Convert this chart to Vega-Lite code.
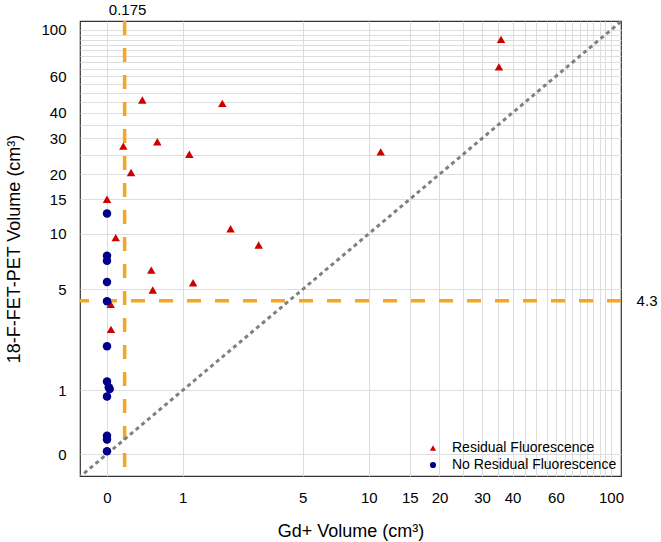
{
  "$schema": "https://vega.github.io/schema/vega-lite/v6.json",
  "width": 541,
  "height": 455,
  "autosize": {"type": "none"},
  "padding": {"left": 80, "top": 21, "right": 40, "bottom": 66},
  "background": "white",
  "config": {
    "font": "Liberation Sans",
    "view": {"stroke": "#333333", "strokeWidth": 1.2},
    "axisX": {
      "tickCount": 100,
      "labelExpr": "indexof([0,1,5,10,15,20,30,40,60,100], datum.value) >= 0 ? '' + datum.value : ''",
      "tickOpacity": {"condition": {"test": "indexof([0,1,5,10,15,20,30,40,60,100], datum.value) >= 0", "value": 1}, "value": 0},
      "tickColor": "#333333",
      "grid": true, "gridColor": "#dddddd", "gridWidth": 1,
      "domain": false, "tickSize": 7, "tickWidth": 1.2,
      "labelPadding": 7, "labelFontSize": 15, "labelColor": "black", "labelOverlap": false, "labelFlush": false, "labelBound": false,
      "titleFontSize": 18, "titleFontWeight": "normal", "titleColor": "black", "titlePadding": 17
    },
    "axisY": {
      "tickCount": 100,
      "labelExpr": "indexof([0,1,5,10,15,20,30,40,60,100], datum.value) >= 0 ? '' + datum.value : ''",
      "tickOpacity": {"condition": {"test": "indexof([0,1,5,10,15,20,30,40,60,100], datum.value) >= 0", "value": 1}, "value": 0},
      "tickColor": "#333333",
      "grid": true, "gridColor": "#dddddd", "gridWidth": 1,
      "domain": false, "tickSize": 8, "tickWidth": 1.2,
      "labelPadding": 6, "labelFontSize": 15, "labelColor": "black", "labelOverlap": false, "labelFlush": false, "labelBound": false,
      "titleFontSize": 18, "titleFontWeight": "normal", "titleColor": "black", "titlePadding": 17
    }
  },
  "layer": [
    {
      "data": {"values": [{"gd": 0.175}]},
      "mark": {"type": "rule", "color": "#F5A623", "strokeWidth": 3.5, "strokeDash": [14, 13]},
      "encoding": {
        "x": {"field": "gd", "type": "quantitative", "title": "Gd+ Volume (cm³)", "scale": {"type": "symlog", "constant": 1, "domain": [-0.2806, 109.7], "nice": false, "zero": false}, "axis": {"values": [0, 1, 5, 10, 15, 20, 25, 30, 35, 40, 45, 50, 55, 60, 65, 70, 75, 80, 85, 90, 95, 100]}}
      }
    },
    {
      "data": {"values": [{"fet": 4.3}]},
      "mark": {"type": "rule", "color": "#F5A623", "strokeWidth": 3.5, "strokeDash": [14, 14]},
      "encoding": {
        "y": {"field": "fet", "type": "quantitative", "title": "18-F-FET-PET Volume (cm³)", "scale": {"type": "symlog", "constant": 1, "domain": [-0.2705, 110.3], "nice": false, "zero": false}, "axis": {"values": [0, 1, 5, 10, 15, 20, 25, 30, 35, 40, 45, 50, 55, 60, 65, 70, 75, 80, 85, 90, 95, 100]}}
      }
    },
    {
      "data": {"values": [{"gd": -0.3, "fet": -0.3, "gd2": 115, "fet2": 115}]},
      "mark": {"type": "rule", "color": "#808080", "strokeWidth": 3, "strokeDash": [4, 3.5], "clip": true},
      "encoding": {
        "x": {"field": "gd", "type": "quantitative", "title": "Gd+ Volume (cm³)", "scale": {"type": "symlog", "constant": 1, "domain": [-0.2806, 109.7], "nice": false, "zero": false}, "axis": {"values": [0, 1, 5, 10, 15, 20, 25, 30, 35, 40, 45, 50, 55, 60, 65, 70, 75, 80, 85, 90, 95, 100]}},
        "y": {"field": "fet", "type": "quantitative", "title": "18-F-FET-PET Volume (cm³)", "scale": {"type": "symlog", "constant": 1, "domain": [-0.2705, 110.3], "nice": false, "zero": false}, "axis": {"values": [0, 1, 5, 10, 15, 20, 25, 30, 35, 40, 45, 50, 55, 60, 65, 70, 75, 80, 85, 90, 95, 100]}},
        "x2": {"field": "gd2"},
        "y2": {"field": "fet2"}
      }
    },
    {
      "data": {"values": [{"gd": 0.175, "fet": 124.4, "label": "0.175"}, {"gd": 135.7, "fet": 4.3, "label": "4.3"}]},
      "mark": {"type": "text", "fontSize": 15, "color": "black", "align": "center", "baseline": "middle", "dx": 3},
      "encoding": {
        "x": {"field": "gd", "type": "quantitative", "title": "Gd+ Volume (cm³)", "scale": {"type": "symlog", "constant": 1, "domain": [-0.2806, 109.7], "nice": false, "zero": false}, "axis": {"values": [0, 1, 5, 10, 15, 20, 25, 30, 35, 40, 45, 50, 55, 60, 65, 70, 75, 80, 85, 90, 95, 100]}},
        "y": {"field": "fet", "type": "quantitative", "title": "18-F-FET-PET Volume (cm³)", "scale": {"type": "symlog", "constant": 1, "domain": [-0.2705, 110.3], "nice": false, "zero": false}, "axis": {"values": [0, 1, 5, 10, 15, 20, 25, 30, 35, 40, 45, 50, 55, 60, 65, 70, 75, 80, 85, 90, 95, 100]}},
        "text": {"field": "label"}
      }
    },
    {
      "data": {"values": [
        {"gd": 0.382, "fet": 46.1, "group": "Residual Fluorescence"},
        {"gd": 1.875, "fet": 44.4, "group": "Residual Fluorescence"},
        {"gd": 0.161, "fet": 27.5, "group": "Residual Fluorescence"},
        {"gd": 0.585, "fet": 28.9, "group": "Residual Fluorescence"},
        {"gd": 1.125, "fet": 25.1, "group": "Residual Fluorescence"},
        {"gd": 0.246, "fet": 20.4, "group": "Residual Fluorescence"},
        {"gd": 0.0, "fet": 15.0, "group": "Residual Fluorescence"},
        {"gd": 0.083, "fet": 9.53, "group": "Residual Fluorescence"},
        {"gd": 2.1, "fet": 10.6, "group": "Residual Fluorescence"},
        {"gd": 3.01, "fet": 8.72, "group": "Residual Fluorescence"},
        {"gd": 0.5, "fet": 6.4, "group": "Residual Fluorescence"},
        {"gd": 1.2, "fet": 5.45, "group": "Residual Fluorescence"},
        {"gd": 0.52, "fet": 4.96, "group": "Residual Fluorescence"},
        {"gd": 0.034, "fet": 4.1, "group": "Residual Fluorescence"},
        {"gd": 0.037, "fet": 2.88, "group": "Residual Fluorescence"},
        {"gd": 35.9, "fet": 90.1, "group": "Residual Fluorescence"},
        {"gd": 35.2, "fet": 66.6, "group": "Residual Fluorescence"},
        {"gd": 11.26, "fet": 25.8, "group": "Residual Fluorescence"},
        {"gd": 0.0, "fet": 12.7, "group": "No Residual Fluorescence"},
        {"gd": 0.0, "fet": 7.65, "group": "No Residual Fluorescence"},
        {"gd": 0.0, "fet": 7.19, "group": "No Residual Fluorescence"},
        {"gd": 0.0, "fet": 5.5, "group": "No Residual Fluorescence"},
        {"gd": 0.0, "fet": 4.27, "group": "No Residual Fluorescence"},
        {"gd": 0.0, "fet": 2.23, "group": "No Residual Fluorescence"},
        {"gd": 0.0, "fet": 1.2, "group": "No Residual Fluorescence"},
        {"gd": 0.016, "fet": 1.07, "group": "No Residual Fluorescence"},
        {"gd": 0.025, "fet": 1.03, "group": "No Residual Fluorescence"},
        {"gd": 0.0, "fet": 0.87, "group": "No Residual Fluorescence"},
        {"gd": 0.0, "fet": 0.22, "group": "No Residual Fluorescence"},
        {"gd": 0.0, "fet": 0.17, "group": "No Residual Fluorescence"},
        {"gd": 0.0, "fet": 0.03, "group": "No Residual Fluorescence"}
      ]},
      "mark": {"type": "point", "filled": true, "opacity": 1, "size": 72},
      "encoding": {
        "x": {"field": "gd", "type": "quantitative", "title": "Gd+ Volume (cm³)", "scale": {"type": "symlog", "constant": 1, "domain": [-0.2806, 109.7], "nice": false, "zero": false}, "axis": {"values": [0, 1, 5, 10, 15, 20, 25, 30, 35, 40, 45, 50, 55, 60, 65, 70, 75, 80, 85, 90, 95, 100]}},
        "y": {"field": "fet", "type": "quantitative", "title": "18-F-FET-PET Volume (cm³)", "scale": {"type": "symlog", "constant": 1, "domain": [-0.2705, 110.3], "nice": false, "zero": false}, "axis": {"values": [0, 1, 5, 10, 15, 20, 25, 30, 35, 40, 45, 50, 55, 60, 65, 70, 75, 80, 85, 90, 95, 100]}},
        "color": {
          "field": "group", "type": "nominal",
          "scale": {"domain": ["Residual Fluorescence", "No Residual Fluorescence"], "range": ["#CD0000", "#00008B"]},
          "legend": {"title": null, "orient": "bottom-right", "offset": 4, "padding": 0, "labelFontSize": 14, "labelColor": "black", "labelLimit": 0, "symbolSize": 38, "rowPadding": 3, "labelOffset": 12}
        },
        "shape": {
          "field": "group", "type": "nominal",
          "scale": {"domain": ["Residual Fluorescence", "No Residual Fluorescence"], "range": ["triangle-up", "circle"]},
          "legend": {"title": null, "orient": "bottom-right", "offset": 4, "padding": 0, "labelFontSize": 14, "labelColor": "black", "labelLimit": 0, "symbolSize": 38, "rowPadding": 3, "labelOffset": 12}
        }
      }
    }
  ]
}
